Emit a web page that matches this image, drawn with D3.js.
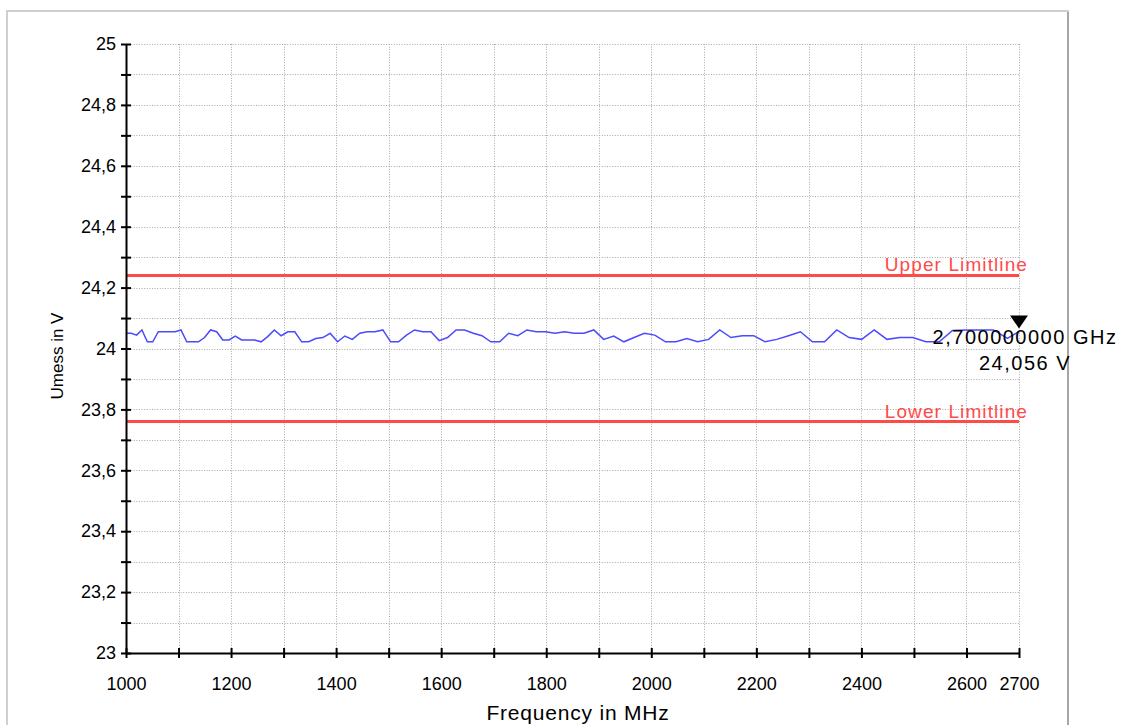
<!DOCTYPE html>
<html>
<head>
<meta charset="utf-8">
<script src="https://cdn.jsdelivr.net/npm/d3@7"></script>
<style>
  body { margin: 0; background: #fff; }
  text { font-family: "Liberation Sans", Arial, sans-serif; }
</style>
</head>
<body>
<div id="chart"></div>
<script>
// sweep points (1% log steps, last point = stop frequency)
var freqs = [1000, 1010, 1020.1, 1030.3, 1040.6, 1051.0, 1061.5, 1072.1, 1082.9, 1093.7,
  1104.6, 1115.7, 1126.8, 1138.1, 1149.5, 1161.0, 1172.6, 1184.3, 1196.1, 1208.1,
  1220.2, 1232.4, 1244.7, 1257.2, 1269.7, 1282.4, 1295.3, 1308.2, 1321.3, 1334.5,
  1347.8, 1361.3, 1374.9, 1388.7, 1402.6, 1416.6, 1430.8, 1445.1, 1459.5, 1474.1,
  1488.9, 1503.8, 1518.8, 1534.0, 1549.3, 1564.8, 1580.5, 1596.3, 1612.2, 1628.4,
  1644.6, 1661.1, 1677.7, 1694.5, 1711.4, 1728.5, 1745.8, 1763.3, 1780.9, 1798.7,
  1816.7, 1834.9, 1853.2, 1871.8, 1890.5, 1909.4, 1928.5, 1947.8, 1967.2, 1986.9,
  2006.8, 2026.9, 2047.1, 2067.6, 2088.3, 2109.2, 2130.3, 2151.6, 2173.1, 2194.8,
  2216.7, 2238.9, 2261.3, 2283.9, 2306.7, 2329.8, 2353.1, 2376.6, 2400.4, 2424.4,
  2448.6, 2473.1, 2497.8, 2522.8, 2548.0, 2573.5, 2599.2, 2625.2, 2651.5, 2678.0,
  2700];

// Umess readings in V
var umess = [24.050, 24.050, 24.044, 24.061, 24.022, 24.022, 24.055, 24.055, 24.055, 24.055,
  24.061, 24.022, 24.022, 24.022, 24.036, 24.061, 24.055, 24.028, 24.028, 24.041,
  24.028, 24.028, 24.028, 24.022, 24.039, 24.061, 24.042, 24.055, 24.055, 24.022,
  24.022, 24.033, 24.036, 24.050, 24.022, 24.041, 24.030, 24.050, 24.055, 24.055,
  24.061, 24.022, 24.022, 24.044, 24.061, 24.055, 24.055, 24.026, 24.036, 24.061,
  24.061, 24.050, 24.042, 24.022, 24.022, 24.050, 24.042, 24.061, 24.055, 24.055,
  24.050, 24.055, 24.050, 24.050, 24.061, 24.030, 24.041, 24.022, 24.036, 24.050,
  24.044, 24.022, 24.022, 24.033, 24.022, 24.030, 24.061, 24.036, 24.042, 24.042,
  24.022, 24.030, 24.042, 24.055, 24.022, 24.022, 24.061, 24.036, 24.030, 24.061,
  24.030, 24.036, 24.036, 24.022, 24.022, 24.059, 24.061, 24.061, 24.061, 24.033,
  24.056];

var limitNames = ["Upper Limitline", "Lower Limitline"];
var limitValues = [24.24, 23.76];

var xTicks = [1000, 1100, 1200, 1300, 1400, 1500, 1600, 1700, 1800, 1900, 2000,
  2100, 2200, 2300, 2400, 2500, 2600, 2700];
var xLabels = [1000, 1200, 1400, 1600, 1800, 2000, 2200, 2400, 2600, 2700];
var yTicks = [23, 23.1, 23.2, 23.3, 23.4, 23.5, 23.6, 23.7, 23.8, 23.9, 24,
  24.1, 24.2, 24.3, 24.4, 24.5, 24.6, 24.7, 24.8, 24.9, 25];
var yLabels = [23, 23.2, 23.4, 23.6, 23.8, 24, 24.2, 24.4, 24.6, 24.8, 25];

var markerFreq = 2700;
var markerValue = 24.056;

var svgWidth = 1127;
var svgHeight = 725;

var svg = d3.select("#chart")
    .append("svg")
    .attr("width", svgWidth)
    .attr("height", svgHeight);

// outer panel frame
svg.append("rect")
    .attr("x", 7).attr("y", 11)
    .attr("width", 1061).attr("height", 740)
    .attr("fill", "#fff")
    .attr("stroke", "#cfcfcf")
    .attr("stroke-width", 2);
svg.append("line")
    .attr("x1", 1068).attr("x2", 1068)
    .attr("y1", 12).attr("y2", svgHeight)
    .attr("stroke", "#a6a6a6")
    .attr("stroke-width", 2);

var x = d3.scaleLinear().domain([1000, 2700]).range([126, 1019]);
var y = d3.scaleLinear().domain([23, 25]).range([653, 44]);

var de = d3.formatLocale({decimal: ",", thousands: ".", grouping: [3], currency: ["", " €"]});
var fmt = de.format("~g");

// grid
var grid = svg.append("g")
    .attr("stroke", "#a8a8a8")
    .attr("stroke-width", 1)
    .attr("stroke-dasharray", "1,1.6");
grid.selectAll(".hg")
    .data(yTicks)
    .enter()
    .append("line")
    .attr("x1", x(1000)).attr("x2", x(2700))
    .attr("y1", d => Math.round(y(d)) + 0.5)
    .attr("y2", d => Math.round(y(d)) + 0.5);
grid.selectAll(".vg")
    .data(xTicks)
    .enter()
    .append("line")
    .attr("y1", y(25)).attr("y2", y(23))
    .attr("x1", d => Math.round(x(d)) + 0.5)
    .attr("x2", d => Math.round(x(d)) + 0.5);

// limit lines
var limits = svg.append("g");
limits.selectAll("line")
    .data(limitValues)
    .enter()
    .append("line")
    .attr("x1", x(1000)).attr("x2", x(2700))
    .attr("y1", d => y(d)).attr("y2", d => y(d))
    .attr("stroke", "#ff4a4a")
    .attr("stroke-width", 3);
limits.selectAll("text")
    .data(limitValues)
    .enter()
    .append("text")
    .attr("x", x(2700) + 9)
    .attr("y", d => y(d) - 4)
    .attr("text-anchor", "end")
    .attr("font-size", "19px")
    .attr("letter-spacing", "1.1px")
    .attr("fill", "#ff4a4a")
    .text((d, i) => limitNames[i]);

// trace
var line = d3.line()
    .x(d => x(d[0]))
    .y(d => y(d[1]));
svg.append("path")
    .datum(d3.zip(freqs, umess))
    .attr("d", line)
    .attr("fill", "none")
    .attr("stroke", "#4a4aff")
    .attr("stroke-width", 1.5);

// axes
var leftAxis = d3.axisLeft(y)
    .tickValues(yTicks)
    .tickSizeOuter(0)
    .tickPadding(4)
    .tickFormat(d => yLabels.some(v => Math.abs(v - d) < 1e-6) ? fmt(d) : "");
var yAxisG = svg.append("g")
    .attr("transform", `translate(${x(1000)},0)`)
    .call(leftAxis);

var bottomAxis = d3.axisBottom(x)
    .tickValues(xTicks)
    .tickSizeOuter(0)
    .tickPadding(15)
    .tickFormat(d => xLabels.indexOf(d) >= 0 ? d : "");
var xAxisG = svg.append("g")
    .attr("transform", `translate(0,${y(23)})`)
    .call(bottomAxis);

[yAxisG, xAxisG].forEach(function(g) {
    g.select(".domain").attr("stroke", "#000").attr("stroke-width", 2);
    g.selectAll(".tick line").attr("stroke", "#000").attr("stroke-width", 2);
    g.selectAll(".tick text")
      .attr("font-family", "Liberation Sans, Arial, sans-serif")
      .attr("font-size", "18px")
      .attr("fill", "#000");
});
yAxisG.selectAll(".tick line").attr("x1", -5).attr("x2", 5);
xAxisG.selectAll(".tick line").attr("y1", -5).attr("y2", 5);
xAxisG.selectAll(".tick text").attr("dy", "0.9em");

// axis titles
svg.append("text")
    .attr("x", 578)
    .attr("y", 720)
    .attr("text-anchor", "middle")
    .attr("font-size", "21px")
    .attr("letter-spacing", "0.8px")
    .text("Frequency in MHz");

svg.append("text")
    .attr("transform", "translate(63, 356) rotate(-90)")
    .attr("text-anchor", "middle")
    .attr("font-size", "17px")
    .text("Umess in V");

// marker
var mx = x(markerFreq), my = y(markerValue);
svg.append("path")
    .attr("d", `M${mx - 9},${my - 16}L${mx + 9},${my - 16}L${mx},${my - 3}Z`)
    .attr("fill", "#000");
var markerLines = [de.format(".9f")(markerFreq / 1000) + " GHz", de.format(".3f")(markerValue) + " V"];
svg.selectAll(".marker-label")
    .data(markerLines)
    .enter()
    .append("text")
    .attr("class", "marker-label")
    .attr("x", mx + 6)
    .attr("y", (d, i) => my + 13 + i * 26)
    .attr("text-anchor", "middle")
    .attr("font-size", "20px")
    .attr("letter-spacing", "1.5px")
    .text(d => d);
</script>
</body>
</html>
